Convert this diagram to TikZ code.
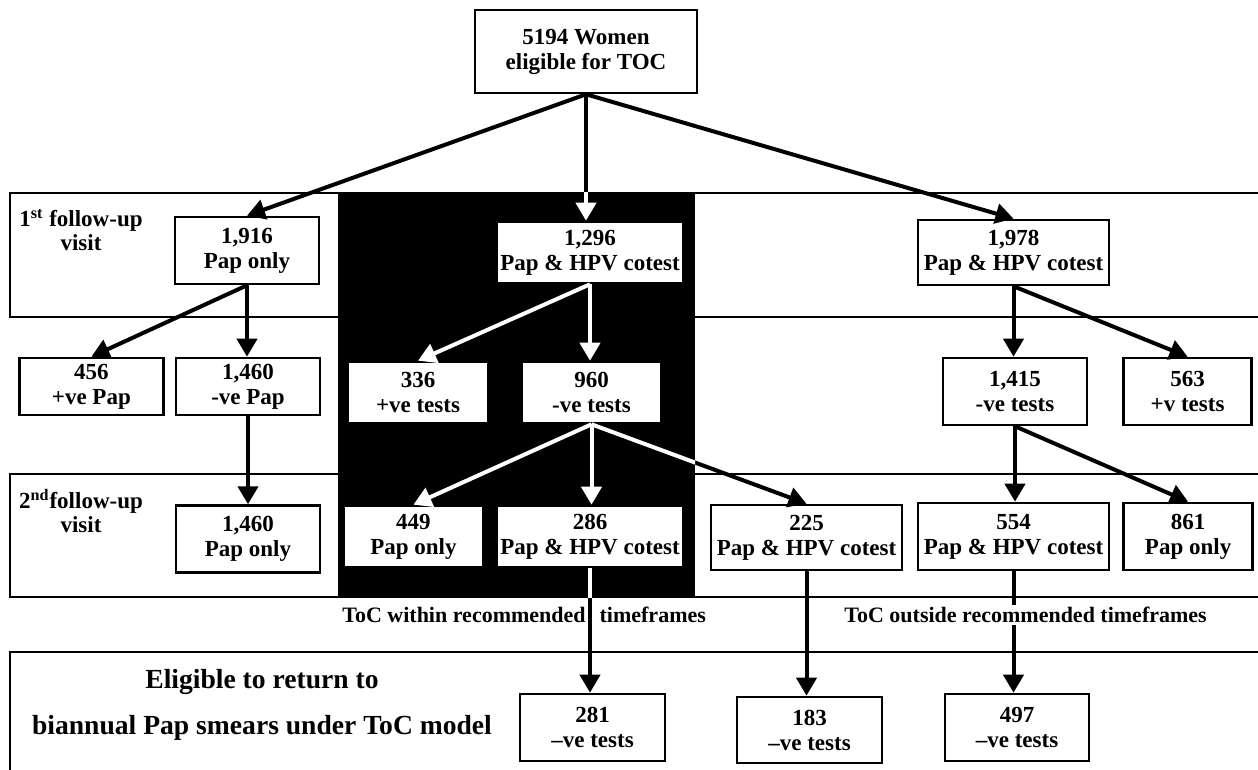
\documentclass[tikz,border=0pt]{standalone}
\usepackage{fontspec}
\setmainfont{Liberation Serif}
\usetikzlibrary{arrows.meta,positioning}
\newcommand{\visitband}[2]{\draw[bandline] (1258,#1) -| (10,#2) -- (1258,#2);}
\tikzset{tocbox/.style={draw, line width=1.3pt, fill=white, align=center, inner sep=0pt, font=\fontsize{11.5}{12.5}\selectfont\bfseries}}
\tikzset{tocarrow/.style={-{Triangle[length=9pt,width=10pt]}, line width=2pt}}
\tikzset{bandline/.style={line width=1.1pt}}
\tikzset{tocnote/.style={inner sep=1pt, font=\fontsize{11}{13}\selectfont\bfseries}}

\begin{document}
\begin{tikzpicture}[x=0.5pt, y=-0.5pt]
\useasboundingbox (0,0) rectangle (1258,770);
% visit bands and the shaded column
\visitband{193}{317}
\visitband{474}{597}
\draw[bandline] (10,770) |- (1258,652);
\fill[black] (338,193) rectangle (695,597);
% boxes
\node[tocbox, minimum width=111pt, minimum height=41.5pt] (top) at (586,51.5) {5194 Women\\eligible for TOC};
\node[tocbox, minimum width=72pt, minimum height=33.5pt] (pap1916) at (247,250.5) {1,916\\Pap only};
\node[tocbox, minimum width=93pt, minimum height=30.5pt] (co1296) at (590,252.5) {1,296\\Pap \& HPV cotest};
\node[tocbox, minimum width=95.5pt, minimum height=32.5pt] (co1978) at (1013.5,252.5) {1,978\\Pap \& HPV cotest};
\node[tocbox, minimum width=72pt, minimum height=28.5pt] (neg1460) at (248,386.5) {1,460\\-ve Pap};
\node[tocbox, minimum width=72pt, minimum height=28.5pt, left=5pt of neg1460] (pos456) {456\\+ve Pap};
\node[tocbox, minimum width=70pt, minimum height=30.5pt] (pos336) at (418,392.5) {336\\+ve tests};
\node[tocbox, minimum width=69.5pt, minimum height=30.5pt] (neg960) at (591.5,392.5) {960\\-ve tests};
\node[tocbox, minimum width=72pt, minimum height=33.5pt] (neg1415) at (1015,391.5) {1,415\\-ve tests};
\node[tocbox, minimum width=64pt, minimum height=33.5pt, right=17pt of neg1415] (pos563) {563\\+v tests};
\node[tocbox, minimum width=72pt, minimum height=33.5pt, below=44pt of neg1460] (pap1460) {1,460\\Pap only};
\node[tocbox, minimum width=93pt, minimum height=30.5pt] (co286) at (590,536.5) {286\\Pap \& HPV cotest};
\node[tocbox, minimum width=70pt, minimum height=30.5pt, left=5.5pt of co286] (pap449) {449\\Pap only};
\node[tocbox, minimum width=95.5pt, minimum height=32.5pt] (co225) at (806.5,537.5) {225\\Pap \& HPV cotest};
\node[tocbox, minimum width=95.5pt, minimum height=33.5pt] (co554) at (1013.5,536.5) {554\\Pap \& HPV cotest};
\node[tocbox, minimum width=64.5pt, minimum height=33.5pt, right=6pt of co554] (pap861) {861\\Pap only};
\node[tocbox, minimum width=72.5pt, minimum height=33.5pt] (neg281) at (592.5,727.5) {281\\--ve tests};
\node[tocbox, minimum width=72.5pt, minimum height=33pt] (neg183) at (809.5,730) {183\\--ve tests};
\node[tocbox, minimum width=72pt, minimum height=33.5pt] (neg497) at (1017,727.5) {497\\--ve tests};
% arrows
\draw[tocarrow] (top.south) -- (pap1916.north);
\draw[tocarrow] (top.south) -- (top.south |- co1296.north);
\draw[tocarrow] (top.south) -- (co1978.north);
\draw[tocarrow] (pap1916.south) -- (pos456.north);
\draw[tocarrow] (pap1916.south) -- (pap1916.south |- neg1460.north);
\draw[tocarrow] (neg1460.south) -- (neg1460.south |- pap1460.north);
\draw[tocarrow] (co1978.south) -- (co1978.south |- neg1415.north);
\draw[tocarrow] (co1978.south) -- (pos563.north);
\draw[tocarrow] (neg1415.south) -- (neg1415.south |- co554.north);
\draw[tocarrow] (neg1415.south) -- (pap861.north);
\draw[tocarrow] (neg960.south) -- (co225.north);
\draw[tocarrow] (co286.south) -- (co286.south |- neg281.north);
\draw[tocarrow] (co225.south) -- (co225.south |- neg183.north);
\draw[tocarrow] (co554.south) -- (co554.south |- neg497.north);
% white inside the shaded column
\begin{scope}
\clip (338,193) rectangle (695,597);
\draw[tocarrow, white] (top.south) -- (top.south |- co1296.north);
\draw[tocarrow, white] (co1296.south) -- (pos336.north);
\draw[tocarrow, white] (co1296.south) -- (co1296.south |- neg960.north);
\draw[tocarrow, white] (neg960.south) -- (pap449.north);
\draw[tocarrow, white] (neg960.south) -- (neg960.south |- co286.north);
\draw[tocarrow, white] (neg960.south) -- (co225.north);
\draw[tocarrow, white] (co286.south) -- (co286.south |- neg281.north);
\end{scope}
% labels
\node[align=center, font=\fontsize{11.5}{12}\selectfont\bfseries] (visit1) at (81,230) {1\textsuperscript{st} follow-up\\visit};
\node[align=center, font=\fontsize{11.5}{12}\selectfont\bfseries] (visit2) at (81,511) {2\textsuperscript{nd}follow-up\\visit};
\node[tocnote, anchor=west] (within) at (340,615) {ToC within recommended\hspace{7pt}timeframes};
\node[tocnote, anchor=west, fill=white] (outside) at (842,615) {ToC outside recommended timeframes};
\node[align=center, font=\fontsize{13.8}{23}\selectfont\bfseries] (elig) at (262,705) {Eligible to return to\\biannual Pap smears under ToC model};
\end{tikzpicture}
\end{document}
